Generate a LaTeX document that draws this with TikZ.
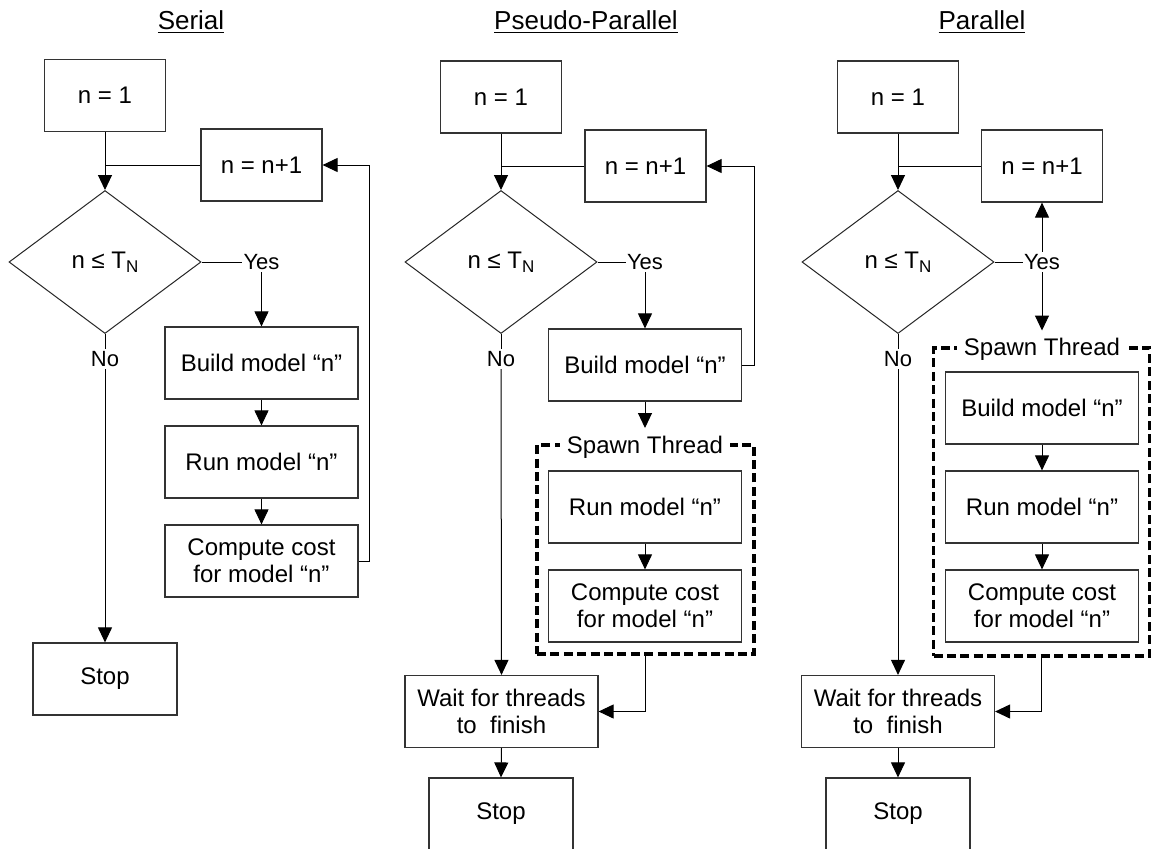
\documentclass[tikz,border=0pt]{standalone}
\usepackage{fontspec}
\setmainfont{Liberation Sans}
\usetikzlibrary{shapes.geometric,arrows.meta}
\newcommand\condtext{n ≤ T\raisebox{-2pt}{\fontsize{8.5}{8.5}\selectfont N}}

\begin{document}
\begin{tikzpicture}[x=0.5pt,y=-0.5pt,
  every node/.style={font=\fontsize{12}{13.5}\selectfont},
  box/.style={draw=black!80, line width=0.6pt, minimum height=36pt, align=center, inner sep=1pt},
  narrow/.style={box, minimum width=60.5pt},
  wide/.style={box, minimum width=96.5pt},
  endbox/.style={box, minimum width=72pt},
  test/.style={diamond, draw=black!85, line width=0.5pt, minimum width=96pt, minimum height=71.5pt, inner sep=0pt},
  tag/.style={font=\fontsize{11}{12}\selectfont, inner xsep=0.5pt, inner ysep=1pt},
  heading/.style={font=\fontsize{13}{15}\selectfont, anchor=base},
  flow/.style={line width=0.5pt, -{Triangle[width=7pt,length=7.5pt]}},
  link/.style={line width=0.5pt},
  thread/.style={draw, line width=1.6pt, dash pattern=on 4.5pt off 2.2pt},
  threadtag/.style={fill=white, anchor=base, inner xsep=3.5pt, inner ysep=3.6pt}
]
\useasboundingbox (0,0) rectangle (1152,848);
\fill[white] (0,0) rectangle (1152,848);

% ---------------- Serial ----------------
\node[heading] (t1) at (191,29) {\underline{Serial}};
\node[narrow] (a1) at (105,95.5) {n = 1};
\node[narrow] (a2) at (261.5,165) {n = n+1};
\node[test] (a3) at (105,262) {\condtext};
\node[tag] (ay) at (261.5,262) {Yes};
\node[tag] (an) at (105,359) {No};
\node[wide] (a4) at (261.5,363) {Build model “n”};
\node[wide] (a5) at (261.5,462) {Run model “n”};
\node[wide] (a6) at (261.5,561) {Compute cost\\for model “n”};
\node[endbox] (a7) at (105,679) {Stop};

\draw[flow] (a1.south) -- (a3.north);
\draw[link] (a2.west) -- (a1.south |- a2.west);
\draw[link] (a3.east) -- (ay.west);
\draw[flow] (ay.south) -- (a4.north);
\draw[flow] (a4.south) -- (a5.north);
\draw[flow] (a5.south) -- (a6.north);
\draw[flow] (a6.east) -- ++(11,0) |- (a2.east);
\draw[link] (a3.south) -- (an.north);
\draw[flow] (an.south) -- (a7.north);

% ---------------- Pseudo-Parallel ----------------
\node[heading] (t2) at (586,29) {\underline{Pseudo-Parallel}};
\node[narrow] (b1) at (501,97) {n = 1};
\node[narrow] (b2) at (645.5,166) {n = n+1};
\node[test] (b3) at (501,262) {\condtext};
\node[tag] (by) at (645,262) {Yes};
\node[tag] (bn) at (501,359) {No};
\node[wide] (b4) at (645,365) {Build model “n”};
\node[thread, minimum width=108.5pt, minimum height=104.5pt] (bt) at (645.5,549.5) {};
\node[threadtag] (bs) at (645,453) {Spawn Thread};
\node[wide] (b5) at (645,507) {Run model “n”};
\node[wide] (b6) at (645,606) {Compute cost\\for model “n”};
\node[wide] (b7) at (501.5,711.5) {Wait for threads\\to\ \ finish};
\node[endbox] (b8) at (501,814) {Stop};

\draw[flow] (b1.south) -- (b3.north);
\draw[link] (b2.west) -- (b1.south |- b2.west);
\draw[link] (b3.east) -- (by.west);
\draw[flow] (by.south) -- (b4.north);
\draw[flow] (b4.east) -- ++(12,0) |- (b2.east);
\draw[flow] (b4.south) -- (bs.north);
\draw[flow] (b5.south) -- (b6.north);
\draw[flow] (bt.south) |- (b7.east);
\draw[link] (b3.south) -- (bn.north);
\draw[flow] (bn.south) -- (b7.north);
\draw[flow] (b7.south) -- (b8.north);

% ---------------- Parallel ----------------
\node[heading] (t3) at (982,29) {\underline{Parallel}};
\node[narrow] (c1) at (898,97) {n = 1};
\node[narrow] (c2) at (1042,166) {n = n+1};
\node[test] (c3) at (898,262) {\condtext};
\node[tag] (cy) at (1042,262) {Yes};
\node[tag] (cn) at (898,359) {No};
\node[thread, minimum width=108pt, minimum height=154pt] (ct) at (1041.5,502) {};
\node[threadtag] (cs) at (1042,355.5) {Spawn Thread};
\node[wide] (c4) at (1042,408) {Build model “n”};
\node[wide] (c5) at (1042,507) {Run model “n”};
\node[wide] (c6) at (1042,606) {Compute cost\\for model “n”};
\node[wide] (c7) at (898,711.5) {Wait for threads\\to\ \ finish};
\node[endbox] (c8) at (898,814) {Stop};

\draw[flow] (c1.south) -- (c3.north);
\draw[link] (c2.west) -- (c1.south |- c2.west);
\draw[link] (c3.east) -- (cy.west);
\draw[flow] (cy.north) -- (c2.south);
\draw[flow] (cy.south) -- (cs.north);
\draw[flow] (c4.south) -- (c5.north);
\draw[flow] (c5.south) -- (c6.north);
\draw[flow] (ct.south) |- (c7.east);
\draw[link] (c3.south) -- (cn.north);
\draw[flow] (cn.south) -- (c7.north);
\draw[flow] (c7.south) -- (c8.north);
\end{tikzpicture}
\end{document}
